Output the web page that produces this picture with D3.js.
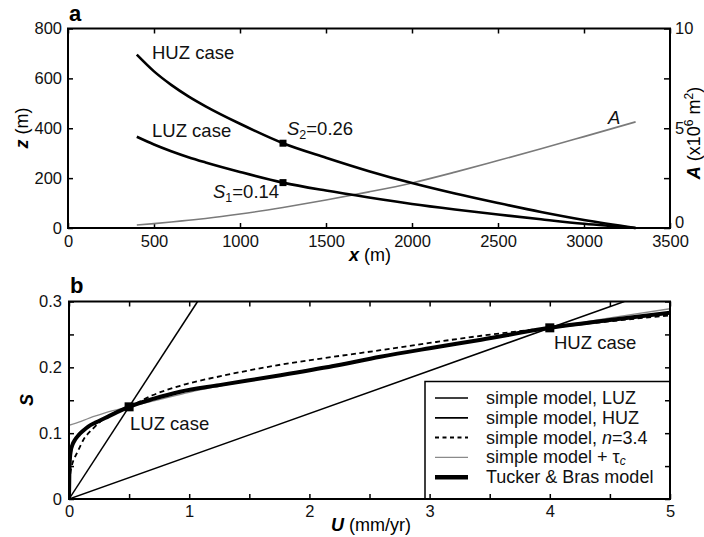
<!DOCTYPE html>
<html><head><meta charset="utf-8">
<script src="https://cdn.jsdelivr.net/npm/d3@7"></script>
<style>body{margin:0;background:#fff}svg{font-family:"Liberation Sans",Arial,Helvetica,sans-serif}</style>
</head><body><svg id="c" width="704" height="537"></svg>
<script>
// ---- Panel a data ----
const profX = [400,500,600,700,800,1000,1250,1500,1750,2000,2250,2500,2750,3000,3300];
const huzZ  = [695,628,574,528,488,418,340,282,228,180,138,100,64,32,0];
const luzZ  = [366,335,308,284,263,225,182,150,122,96,74,54,35,17,0];
const areaA = [0.15,0.22,0.30,0.39,0.48,0.70,1.03,1.40,1.81,2.26,2.80,3.38,3.97,4.58,5.32];
const markersA = [{x:1250,z:340},{x:1250,z:182}];
const xTicksA = [0,500,1000,1500,2000,2500,3000,3500];
const zTicks = [0,200,400,600,800];
const aTicks = [0,5,10];
const aMinor = [2.5,7.5];

// ---- Panel b data ----
const tbU = [0,0.003,0.008,0.015,0.03,0.05,0.08,0.12,0.16,0.22,0.3,0.4,0.5,0.7,0.925,1.25,1.76,2.2,2.59,3,3.43,4,4.5,5];
const tbS = [0,0.04,0.062,0.073,0.083,0.09,0.097,0.104,0.11,0.116,0.123,0.132,0.14,0.152,0.163,0.173,0.188,0.202,0.216,0.229,0.242,0.26,0.272,0.283];
const n34U = [0,0.005,0.012,0.02,0.04,0.067,0.12,0.2,0.3,0.4,0.5,0.7,0.925,1.3,1.76,2.2,2.59,3,3.43,4,4.5,5];
const n34S = [0,0.025,0.04,0.048,0.06,0.07,0.09,0.107,0.123,0.133,0.14,0.158,0.172,0.188,0.204,0.216,0.226,0.237,0.248,0.26,0.27,0.279];
const tcU = [0,0.1,0.2,0.3,0.5,0.75,1,1.5,2,2.5,3,3.5,4,4.5,5];
const tcS = [0.112,0.118,0.125,0.131,0.14,0.151,0.162,0.18,0.197,0.213,0.229,0.245,0.26,0.275,0.289];
const luzLine = [[0,0],[1.07,0.3]];
const huzLine = [[0,0],[4.62,0.3]];
const markersB = [{u:0.5,s:0.14},{u:4,s:0.26}];
const uTicks = [0,1,2,3,4,5];
const uMinor = [0.5,1.5,2.5,3.5,4.5];
const sTicks = [0,0.1,0.2,0.3];
const sMinor = [0.05,0.15,0.25];
const legendItems = ["simple model, LUZ","simple model, HUZ","simple model, n=3.4","simple model + τc","Tucker & Bras model"];

const svg = d3.select("#c");
const TFS = 16.5;   // tick labels
const FS = 18.5;    // annotations
const LGFS = 18;    // legend
const LFS = 18;     // axis titles

function frameAxes(g, xs, ys, xt, yt, xminor, yminor, xfmt, yfmt, rightTicks, padB, padL){
  const tk = 5;
  g.append("g").attr("transform",`translate(0,${ys.range()[0]})`)
    .call(d3.axisBottom(xs).tickValues(xt).tickSize(-tk).tickPadding(padB).tickFormat(xfmt))
    .call(s=>s.select(".domain").remove());
  if (xminor) g.append("g").attr("transform",`translate(0,${ys.range()[0]})`)
    .call(d3.axisBottom(xs).tickValues(xminor).tickSize(-tk).tickFormat(""))
    .call(s=>s.select(".domain").remove());
  g.append("g").attr("transform",`translate(0,${ys.range()[1]})`)
    .call(d3.axisTop(xs).tickValues(xt.concat(xminor||[])).tickSize(-tk).tickFormat(""))
    .call(s=>s.select(".domain").remove());
  g.append("g").attr("transform",`translate(${xs.range()[0]},0)`)
    .call(d3.axisLeft(ys).tickValues(yt).tickSize(-tk).tickPadding(padL).tickFormat(yfmt))
    .call(s=>s.select(".domain").remove());
  if (yminor) g.append("g").attr("transform",`translate(${xs.range()[0]},0)`)
    .call(d3.axisLeft(ys).tickValues(yminor).tickSize(-tk).tickFormat(""))
    .call(s=>s.select(".domain").remove());
  if (rightTicks) g.append("g").attr("transform",`translate(${xs.range()[1]},0)`)
    .call(d3.axisRight(ys).tickValues(yt.concat(yminor||[])).tickSize(-tk).tickFormat(""))
    .call(s=>s.select(".domain").remove());
  g.append("rect").attr("x",xs.range()[0]).attr("y",ys.range()[1])
    .attr("width",xs.range()[1]-xs.range()[0]).attr("height",ys.range()[0]-ys.range()[1])
    .attr("fill","none").attr("stroke","#000").attr("stroke-width",2);
  g.selectAll(".tick line").attr("stroke","#000").attr("stroke-width",1.5);
  g.selectAll(".tick text").attr("font-size",TFS).attr("fill","#111").attr("font-family","Liberation Sans, Arial, sans-serif");
}
function txt(g,x,y,s,opt={}){
  return g.append("text").attr("x",x).attr("y",y).attr("font-size",opt.fs||FS).attr("fill","#111")
    .attr("text-anchor",opt.anchor||"start").text(s);
}

// ===== Panel a =====
const ax = {l:68,r:670,t:28.5,b:228};
const xA = d3.scaleLinear().domain([0,3500]).range([ax.l,ax.r]);
const zA = d3.scaleLinear().domain([0,800]).range([ax.b,ax.t]);
const aA = d3.scaleLinear().domain([0,10]).range([ax.b,ax.t]);
const ga = svg.append("g");

frameAxes(ga, xA, zA, xTicksA, zTicks, null, null, d3.format("d"), d3.format("d"), false, 7, 6);
ga.append("g").attr("transform",`translate(${ax.r},0)`)
  .call(d3.axisRight(aA).tickValues(aTicks.concat(aMinor)).tickSize(-6).tickPadding(5)
    .tickFormat(d=> aTicks.includes(d)? d : ""))
  .call(s=>s.select(".domain").remove())
  .call(s=>{s.selectAll("line").attr("stroke","#000").attr("stroke-width",1.5);
            s.selectAll("text").attr("font-size",TFS).attr("fill","#111").attr("font-family","Liberation Sans, Arial, sans-serif");
            s.selectAll(".tick").filter(d=>d===0).select("text").attr("dy","-0.05em");});

const lineA = (ys, arr) => d3.line().x((d,i)=>xA(profX[i])).y((d,i)=>ys(arr[i])).curve(d3.curveMonotoneX)(arr);
ga.append("path").attr("d",lineA(aA, areaA)).attr("fill","none").attr("stroke","#7a7a7a").attr("stroke-width",1.6);
ga.append("path").attr("d",lineA(zA, huzZ)).attr("fill","none").attr("stroke","#000").attr("stroke-width",2.6);
ga.append("path").attr("d",lineA(zA, luzZ)).attr("fill","none").attr("stroke","#000").attr("stroke-width",2.6);
ga.selectAll(".mka").data(markersA).enter().append("rect")
  .attr("x",d=>xA(d.x)-3.5).attr("y",d=>zA(d.z)-3.5).attr("width",7).attr("height",7).attr("fill","#000");

txt(ga,152,58.5,"HUZ case");
txt(ga,152,137,"LUZ case");
{ const t = ga.append("text").attr("x",287).attr("y",135).attr("font-size",FS).attr("fill","#111");
  t.append("tspan").attr("font-style","italic").text("S");
  t.append("tspan").attr("font-size",12.5).attr("dy",4).text("2");
  t.append("tspan").attr("dy",-4).text("=0.26"); }
{ const t = ga.append("text").attr("x",213).attr("y",198).attr("font-size",FS).attr("fill","#111");
  t.append("tspan").attr("font-style","italic").text("S");
  t.append("tspan").attr("font-size",12.5).attr("dy",4).text("1");
  t.append("tspan").attr("dy",-4).text("=0.14"); }
txt(ga,608,124,"A").attr("font-style","italic");
svg.append("text").attr("x",69).attr("y",21).attr("font-size",22).attr("font-weight","bold").text("a");
{ const t = svg.append("text").attr("transform","translate(28,128) rotate(-90)").attr("text-anchor","middle").attr("font-size",LFS);
  t.append("tspan").attr("font-weight","bold").attr("font-style","italic").text("z");
  t.append("tspan").text(" (m)"); }
{ const t = svg.append("text").attr("transform","translate(700,133) rotate(-90)").attr("text-anchor","middle").attr("font-size",LFS);
  t.append("tspan").attr("font-weight","bold").attr("font-style","italic").text("A");
  t.append("tspan").text(" (x10");
  t.append("tspan").attr("font-size",12).attr("baseline-shift","super").text("6");
  t.append("tspan").text(" m");
  t.append("tspan").attr("font-size",12).attr("baseline-shift","super").text("2");
  t.append("tspan").text(")"); }
{ const t = svg.append("text").attr("x",370).attr("y",261).attr("text-anchor","middle").attr("font-size",LFS);
  t.append("tspan").attr("font-weight","bold").attr("font-style","italic").text("x");
  t.append("tspan").text(" (m)"); }

// ===== Panel b =====
const bx = {l:69,r:670,t:301.5,b:499};
const xB = d3.scaleLinear().domain([0,5]).range([bx.l,bx.r]);
const yB = d3.scaleLinear().domain([0,0.3]).range([bx.b,bx.t]);
const gb = svg.append("g");
svg.append("defs").append("clipPath").attr("id","clipb").append("rect")
  .attr("x",bx.l).attr("y",bx.t).attr("width",bx.r-bx.l).attr("height",bx.b-bx.t);

const plotB = gb.append("g").attr("clip-path","url(#clipb)");
const lineB = (us, ss) => d3.line().x((d,i)=>xB(us[i])).y((d,i)=>yB(ss[i])).curve(d3.curveMonotoneX)(ss);
const straight = d3.line().x(d=>xB(d[0])).y(d=>yB(d[1]));
plotB.append("path").attr("d",straight(luzLine)).attr("fill","none").attr("stroke","#000").attr("stroke-width",1.5);
plotB.append("path").attr("d",straight(huzLine)).attr("fill","none").attr("stroke","#000").attr("stroke-width",1.5);
plotB.append("path").attr("d",lineB(tcU,tcS)).attr("fill","none").attr("stroke","#8a8a8a").attr("stroke-width",1.3);
plotB.append("path").attr("d",lineB(tbU,tbS)).attr("fill","none").attr("stroke","#000").attr("stroke-width",4);
plotB.append("path").attr("d",lineB(n34U,n34S)).attr("fill","none").attr("stroke","#000").attr("stroke-width",1.8).attr("stroke-dasharray","5,3.5");
plotB.selectAll(".mkb").data(markersB).enter().append("rect")
  .attr("x",d=>xB(d.u)-4.5).attr("y",d=>yB(d.s)-4.5).attr("width",9).attr("height",9).attr("fill","#000");

txt(gb,130,430,"LUZ case");
txt(gb,554,349,"HUZ case");

const lg = gb.append("g");
lg.append("rect").attr("x",425).attr("y",381.5).attr("width",bx.r-425).attr("height",bx.b-381.5)
  .attr("fill","#fff").attr("stroke","#000").attr("stroke-width",1.5);
const legStyles = [
  {w:1.5,c:"#000",d:null},{w:1.8,c:"#000",d:null},{w:2,c:"#000",d:"4,3.5"},{w:1.2,c:"#8a8a8a",d:null},{w:4.5,c:"#000",d:null}];
legendItems.forEach((s,i)=>{
  const y = 398 + i*19.8;
  const st = legStyles[i];
  lg.append("line").attr("x1",435).attr("x2",468).attr("y1",y).attr("y2",y)
    .attr("stroke",st.c).attr("stroke-width",st.w).attr("stroke-dasharray",st.d);
  const t = lg.append("text").attr("x",486).attr("y",y+6).attr("font-size",LGFS).attr("fill","#111");
  if (i===2){ t.append("tspan").text("simple model, "); t.append("tspan").attr("font-style","italic").text("n"); t.append("tspan").text("=3.4"); }
  else if (i===3){ t.append("tspan").text("simple model + τ"); t.append("tspan").attr("font-style","italic").attr("font-size",12).attr("dy",2).text("c"); }
  else t.text(s);
});

frameAxes(gb, xB, yB, uTicks, sTicks, uMinor, sMinor, d3.format("d"), d=> d===0?"0":d3.format(".1f")(d), true, 6, 7);
svg.append("text").attr("x",70).attr("y",293).attr("font-size",22).attr("font-weight","bold").text("b");
{ const t = svg.append("text").attr("transform","translate(33,400) rotate(-90)").attr("text-anchor","middle").attr("font-size",LFS);
  t.append("tspan").attr("font-weight","bold").attr("font-style","italic").text("S"); }
{ const t = svg.append("text").attr("x",371).attr("y",531).attr("text-anchor","middle").attr("font-size",LFS);
  t.append("tspan").attr("font-weight","bold").attr("font-style","italic").text("U");
  t.append("tspan").text(" (mm/yr)"); }
</script></body></html>
